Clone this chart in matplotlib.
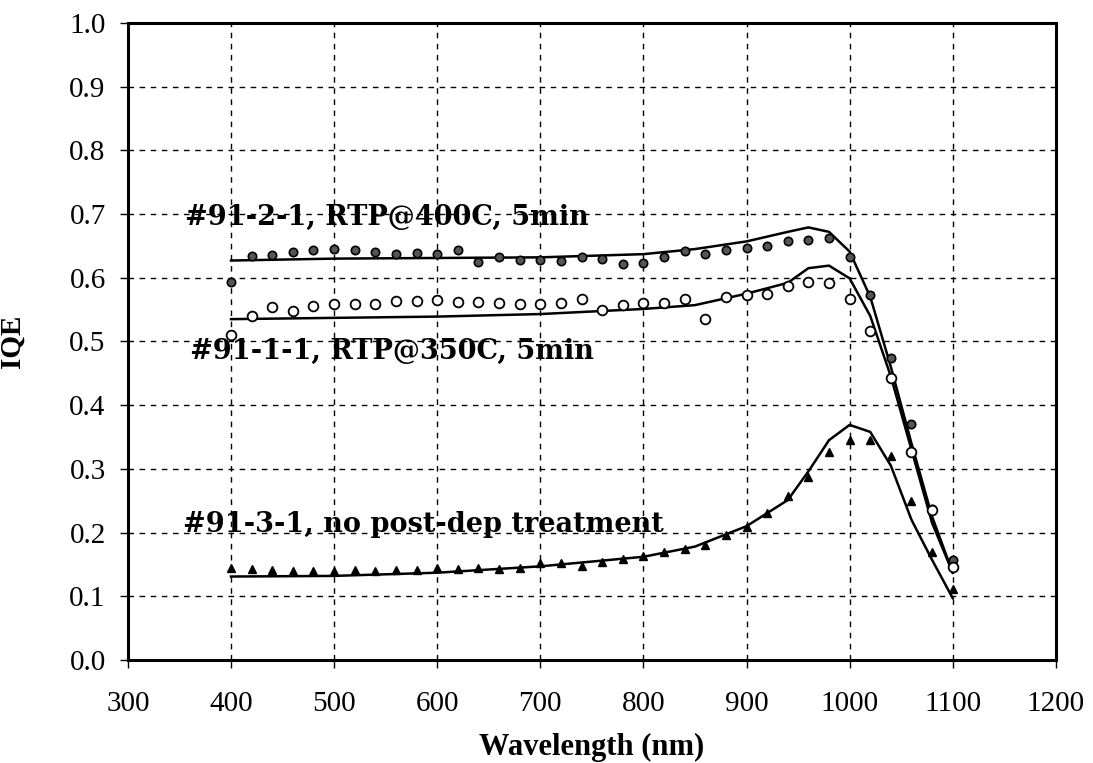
import matplotlib
matplotlib.use('Agg')
import matplotlib.pyplot as plt
from matplotlib.ticker import FormatStrFormatter, MultipleLocator

# measured points, 20 nm steps from 400 to 1100 nm
wavelength = [400, 420, 440, 460, 480, 500, 520, 540, 560, 580,
              600, 620, 640, 660, 680, 700, 720, 740, 760, 780,
              800, 820, 840, 860, 880, 900, 920, 940, 960, 980,
              1000, 1020, 1040, 1060, 1080, 1100]

iqe_400c = [0.593, 0.634, 0.635, 0.640, 0.644, 0.645, 0.643, 0.641, 0.637, 0.639,
            0.637, 0.643, 0.624, 0.633, 0.628, 0.628, 0.627, 0.632, 0.629, 0.622,
            0.623, 0.633, 0.642, 0.637, 0.644, 0.647, 0.650, 0.658, 0.660, 0.663,
            0.632, 0.573, 0.474, 0.371, 0.237, 0.157]

iqe_350c = [0.510, 0.540, 0.554, 0.547, 0.556, 0.559, 0.559, 0.559, 0.563, 0.564,
            0.565, 0.562, 0.562, 0.560, 0.559, 0.559, 0.560, 0.567, 0.549, 0.557,
            0.561, 0.561, 0.566, 0.535, 0.570, 0.573, 0.575, 0.587, 0.593, 0.591,
            0.567, 0.517, 0.443, 0.327, 0.235, 0.146]

iqe_none = [0.144, 0.143, 0.142, 0.140, 0.140, 0.140, 0.142, 0.140, 0.141, 0.141,
            0.144, 0.143, 0.144, 0.143, 0.144, 0.152, 0.152, 0.147, 0.154, 0.159,
            0.164, 0.170, 0.175, 0.181, 0.196, 0.209, 0.230, 0.258, 0.287, 0.326,
            0.345, 0.346, 0.320, 0.250, 0.170, 0.111]

# model curves (solid lines)
fit_wl = [400, 500, 600, 700, 800, 850, 900, 940, 960, 980,
          1000, 1020, 1040, 1060, 1080, 1100]
fit_400c = [0.627, 0.630, 0.631, 0.632, 0.637, 0.645, 0.657, 0.672, 0.679, 0.672,
            0.641, 0.570, 0.460, 0.340, 0.225, 0.137]
fit_350c = [0.535, 0.537, 0.539, 0.543, 0.551, 0.557, 0.575, 0.592, 0.615, 0.619,
            0.599, 0.540, 0.445, 0.330, 0.215, 0.137]
fit_none = [0.131, 0.132, 0.137, 0.147, 0.162, 0.178, 0.210, 0.251, 0.296, 0.345,
            0.369, 0.358, 0.305, 0.220, 0.157, 0.097]

labels = ['#91-2-1, RTP@400C, 5min',
          '#91-1-1, RTP@350C, 5min',
          '#91-3-1, no post-dep treatment']
label_pos = [(355, 0.695), (360, 0.484), (353, 0.212)]

plt.rcParams['font.family'] = ['Liberation Serif', 'DejaVu Serif']

fig, ax = plt.subplots(figsize=(10.93, 7.63), dpi=100)
fig.subplots_adjust(left=0.117, right=0.966, top=0.970, bottom=0.135)

ax.plot(fit_wl, fit_400c, color='black', lw=1.8)
ax.plot(fit_wl, fit_350c, color='black', lw=1.8)
ax.plot(fit_wl, fit_none, color='black', lw=1.8)

ax.plot(wavelength, iqe_400c, 'o', ms=6, mfc='#555555', mec='black', mew=1.2)
ax.plot(wavelength, iqe_350c, 'o', ms=7, mfc='white', mec='black', mew=1.3)
ax.plot(wavelength, iqe_none, '^', ms=6, mfc='black', mec='black', mew=1.0)

# annotations use a wider bold serif, like the Century face in the scan
for txt, (x, y) in zip(labels, label_pos):
    ax.text(x, y, txt, fontsize=19.5, fontweight='bold', va='center', ha='left',
            family=['DejaVu Serif'])

ax.set_xlim(300, 1200)
ax.set_ylim(0, 1.0)
ax.xaxis.set_major_locator(MultipleLocator(100))
ax.yaxis.set_major_locator(MultipleLocator(0.1))
ax.yaxis.set_major_formatter(FormatStrFormatter('%.1f'))

ax.grid(True, color='black', linestyle=(0, (4, 4)), linewidth=1.0)
for s in ax.spines.values():
    s.set_linewidth(2.2)

ax.tick_params(axis='x', direction='out', length=6, width=1, pad=16, labelsize=21)
ax.tick_params(axis='y', direction='out', length=6, width=1, pad=10, labelsize=21)

ax.set_xlabel('Wavelength (nm)', fontsize=22, fontweight='bold', labelpad=12)
ax.set_ylabel('IQE', fontsize=21, fontweight='bold')
ax.yaxis.set_label_coords(-0.11, 0.5)

fig.savefig('out.png', dpi=100)
